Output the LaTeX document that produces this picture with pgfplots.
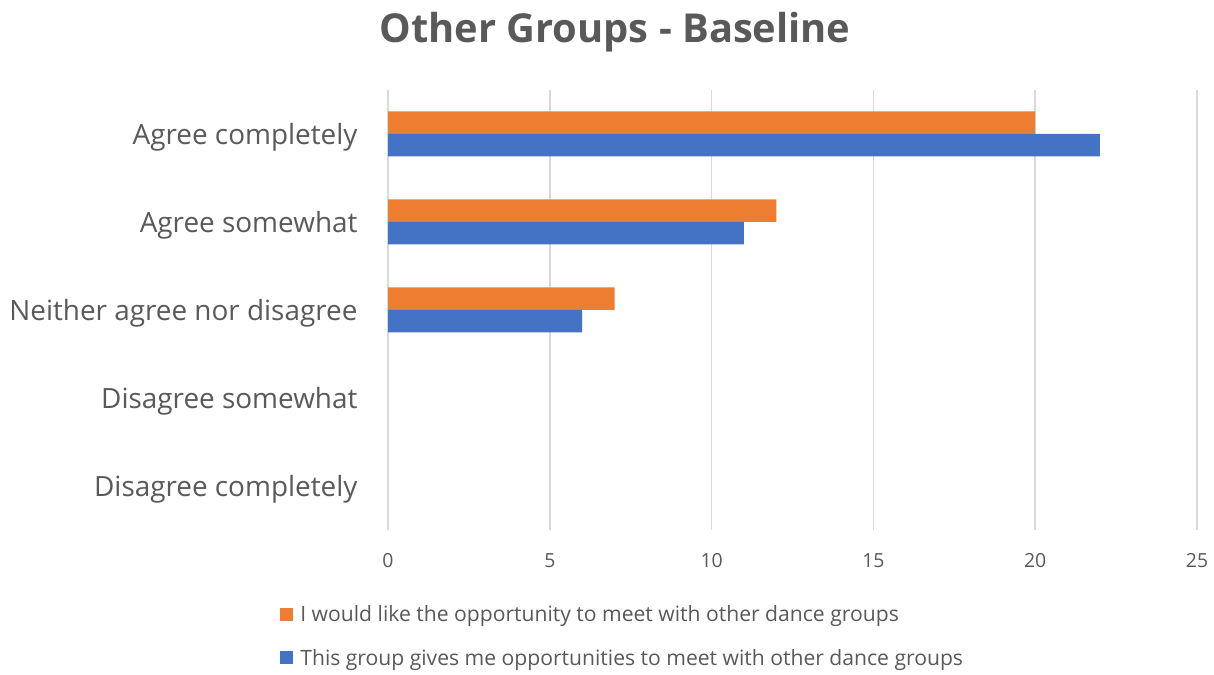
\documentclass[border=0pt]{standalone}
\usepackage{pgfplots}
\pgfplotsset{compat=1.18}
\usepackage{fontspec}
\setmainfont{Open Sans}
\definecolor{txt}{HTML}{595959}
\definecolor{grd}{HTML}{D9D9D9}
\definecolor{orng}{HTML}{ED7D31}
\definecolor{blu}{HTML}{4472C4}
\begin{document}
\begin{tikzpicture}[x=1bp,y=1bp]
\useasboundingbox (0,0) rectangle (1214,675);
\node[font=\fontsize{40}{46}\selectfont\bfseries, text=txt] at (615,643) {Other Groups - Baseline};
\begin{axis}[
  at={(388bp,145bp)}, anchor=south west,
  scale only axis, width=809bp, height=440bp,
  xmin=0, xmax=25, ymin=-0.5, ymax=4.5,
  xtick={0,5,...,25}, ytick={0,1,2,3,4},
  yticklabels={Disagree completely,Disagree somewhat,Neither agree nor disagree,Agree somewhat,Agree completely},
  axis line style={draw=none},
  major tick length=0pt,
  xmajorgrids, grid style={grd, line width=1.5bp},
  xticklabel style={font=\fontsize{19.5}{22}\selectfont, text=txt, yshift=-20bp},
  yticklabel style={font=\fontsize{28}{32}\selectfont, text=txt, xshift=-27bp, yshift=-3bp},
  /pgf/number format/assume math mode=true,
  xbar, bar width=22.5bp,
  legend style={at={(-0.137,-0.162)}, anchor=north west, draw=none, font=\fontsize{21.2}{25}\selectfont, text=txt, row sep=22bp, legend cell align=left},
  legend image code/.code={\path[use as bounding box, fill=none, draw=none] (0bp,-6.5bp) rectangle (18bp,6.5bp); \fill[#1] (0bp,-6.5bp) rectangle (13bp,6.5bp);},
]
\addplot[fill=orng, draw=none, bar shift=11.25bp] coordinates {(20,4) (12,3) (7,2)};
\addplot[fill=blu, draw=none, bar shift=-11.25bp] coordinates {(22,4) (11,3) (6,2)};
\legend{I would like the opportunity to meet with other dance groups, This group gives me opportunities to meet with other dance groups}
\end{axis}
\end{tikzpicture}
\end{document}
